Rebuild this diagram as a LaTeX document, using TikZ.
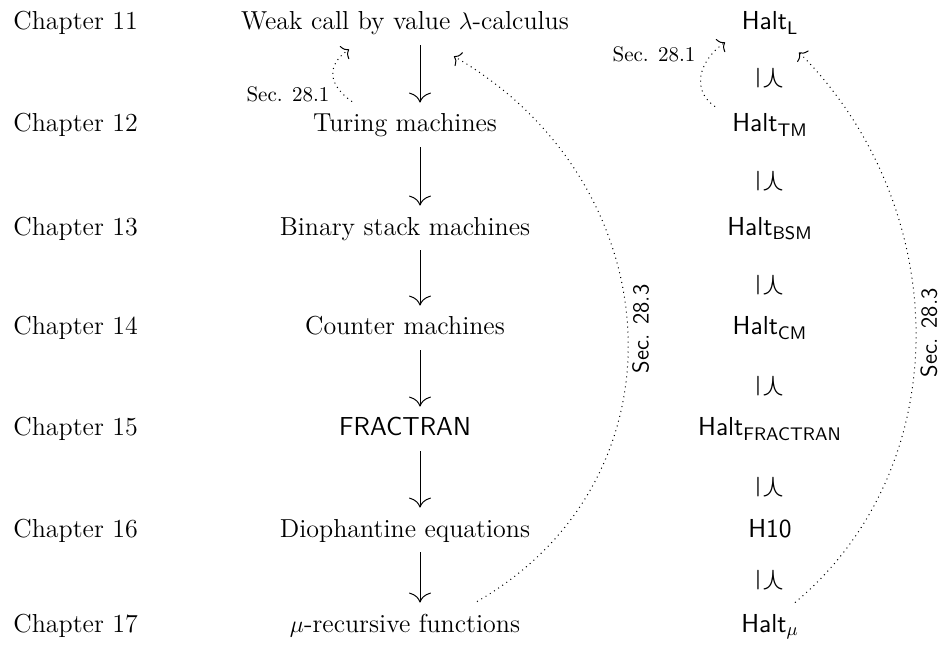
\documentclass[tikz,border=0pt]{standalone}
\usepackage{amsmath,amssymb}
\usepackage{tikz}
\usetikzlibrary{arrows.meta,positioning,calc}

\begin{document}
\begin{tikzpicture}[
    x=0.5pt, y=0.5pt,
    every node/.style={inner sep=2pt, font=\fontsize{13}{15}\selectfont},
    row/.style={anchor=base, text height=9pt, text depth=2.5pt},
    chap/.style={anchor=base west},
    reduces/.style={rotate=-90},
    secnote/.style={font=\fontsize{10.5}{12}\selectfont},
    secside/.style={rotate=90, anchor=north, font=\sffamily\fontsize{11.5}{13}\selectfont},
    simul/.style={-{To[length=5pt,width=11pt]}, line width=0.5pt,
      shorten <=3pt, shorten >=3.5pt},
    embed/.style={dotted, -{To[length=3pt,width=8pt]}, line width=0.5pt}
  ]
  \useasboundingbox (0,0) rectangle (944,-647);
  % chapters
  \node[chap] (c11) at (9,-30) {Chapter 11};
  \node[chap] (c12) at (9,-132) {Chapter 12};
  \node[chap] (c13) at (9,-235) {Chapter 13};
  \node[chap] (c14) at (9,-335) {Chapter 14};
  \node[chap] (c15) at (9,-436) {Chapter 15};
  \node[chap] (c16) at (9,-537) {Chapter 16};
  \node[chap] (c17) at (9,-632) {Chapter 17};
  % models of computation
  \node[row] (lam) at (405,-30) {Weak call by value $\lambda$-calculus};
  \node[row] (tm) at (405,-132) {Turing machines};
  \node[row] (bsm) at (405,-235) {Binary stack machines};
  \node[row] (cm) at (405,-335) {Counter machines};
  \node[row] (fr) at (405,-436) {\textsf{FRACTRAN}};
  \node[row] (dio) at (405,-537) {Diophantine equations};
  \node[row] (mu) at (405,-632) {$\mu$-recursive functions};
  \draw[simul] ([xshift=7.5pt]lam.south) -- ([xshift=7.5pt]tm.north);
  \draw[simul] ([xshift=7.5pt]tm.south) -- ([xshift=7.5pt]bsm.north);
  \draw[simul] ([xshift=7.5pt]bsm.south) -- ([xshift=7.5pt]cm.north);
  \draw[simul] ([xshift=7.5pt]cm.south) -- ([xshift=7.5pt]fr.north);
  \draw[simul] ([xshift=7.5pt]fr.south) -- ([xshift=7.5pt]dio.north);
  \draw[simul] ([xshift=7.5pt]dio.south) -- ([xshift=7.5pt]mu.north);
  % problems
  \node[row] (hl) at (770,-30) {\textsf{Halt}$_{\textsf{L}}$};
  \node[row] (htm) at (770,-132) {\textsf{Halt}$_{\textsf{TM}}$};
  \node[row] (hbsm) at (770,-235) {\textsf{Halt}$_{\textsf{BSM}}$};
  \node[row] (hcm) at (770,-335) {\textsf{Halt}$_{\textsf{CM}}$};
  \node[row] (hfr) at (770,-436) {\textsf{Halt}$_{\textsf{FRACTRAN}}$};
  \node[row] (hten) at (770,-537) {\textsf{H10}};
  \node[row] (hmu) at (770,-632) {\textsf{Halt}$_\mu$};
  \node[reduces] (r1) at (770,-78) {\scalebox{1.35}{$\preceq$}};
  \node[reduces] (r2) at (770,-181) {\scalebox{1.35}{$\preceq$}};
  \node[reduces] (r3) at (770,-285) {\scalebox{1.35}{$\preceq$}};
  \node[reduces] (r4) at (770,-386) {\scalebox{1.35}{$\preceq$}};
  \node[reduces] (r5) at (770,-487) {\scalebox{1.35}{$\preceq$}};
  \node[reduces] (r6) at (770,-580) {\scalebox{1.35}{$\preceq$}};
  % Sections
  \draw[embed] ([xshift=-26.5pt,yshift=4pt]tm.north)
    to[out=145,in=215,looseness=1.4] node[pos=.15,left=4.5pt,secnote] {Sec. 28.1}
    ([xshift=-28pt,yshift=-5pt]lam.south);
  \draw[embed] ([xshift=36pt,yshift=4pt]mu.north)
    to[out=30,in=-30,looseness=1.17] node[midway,secside] {Sec. 28.3}
    ([xshift=24.5pt,yshift=-8.5pt]lam.south);
  \draw[embed] ([xshift=-27.5pt,yshift=1.5pt]htm.north)
    to[out=145,in=215,looseness=1.2] node[pos=.8,left=6pt,secnote] {Sec. 28.1}
    ([xshift=-22.5pt,yshift=-1.5pt]hl.south);
  \draw[embed] ([xshift=12.5pt,yshift=3.5pt]hmu.north)
    to[out=40,in=-45,looseness=1] node[midway,secside] {Sec. 28.3}
    ([xshift=14.5pt,yshift=-6.5pt]hl.south);
\end{tikzpicture}
\end{document}
